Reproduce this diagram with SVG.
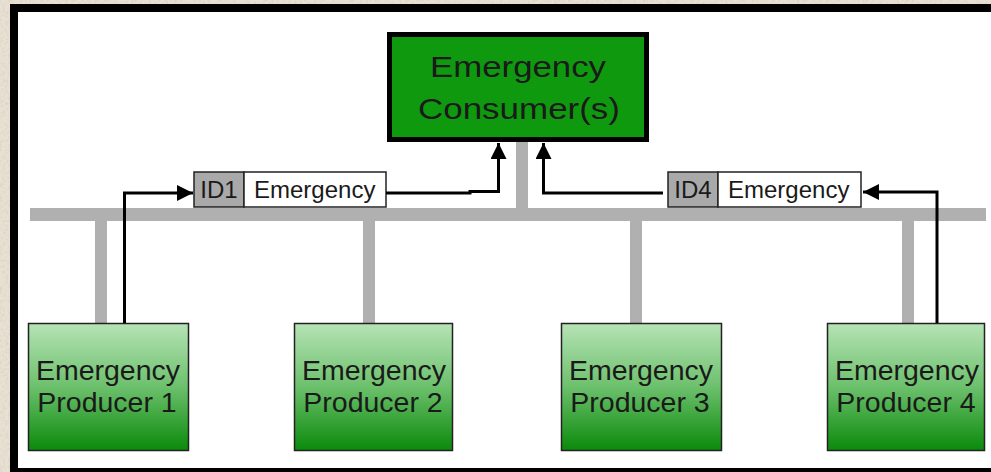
<svg xmlns="http://www.w3.org/2000/svg" width="991" height="472" viewBox="0 0 991 472">
  <defs>
    <style>
      .bus { fill: #b0b0b0; }
      .wire { fill: none; stroke: #000; stroke-width: 3; stroke-linejoin: miter; }
      .prod { fill: url(#prodGrad); stroke: #222; stroke-width: 1.5; }
      .cons { fill: #0f990f; stroke: #000; stroke-width: 5; }
      .tag-id { fill: #a9a9a9; stroke: #222; stroke-width: 1.5; }
      .tag-body { fill: #fff; stroke: #222; stroke-width: 1.5; }
      text { font-family: "Liberation Sans", Arial, sans-serif; fill: #1a1a1a; }
      .big { font-size: 30px; text-anchor: middle; }
      .mid { font-size: 28.5px; text-anchor: middle; }
      .small { font-size: 24px; }
    </style>
    <linearGradient id="prodGrad" x1="0" y1="0" x2="0" y2="1">
      <stop offset="0" stop-color="#b6e3b6"/>
      <stop offset="0.5" stop-color="#6cc06c"/>
      <stop offset="1" stop-color="#0a8a0a"/>
    </linearGradient>
    <filter id="grain" x="0" y="0" width="100%" height="100%">
      <feTurbulence type="fractalNoise" baseFrequency="0.35" numOctaves="3" seed="7"/>
      <feColorMatrix type="matrix" values="0 0 0 0 0.62  0 0 0 0 0.55  0 0 0 0 0.45  0 0 0 -2.2 1.25"/>
    </filter>
    <marker id="head" viewBox="0 0 16 16" refX="16" refY="8" markerWidth="16" markerHeight="16" markerUnits="userSpaceOnUse" orient="auto">
      <path d="M0,0 L16,8 L0,16 Z" fill="#000"/>
    </marker>
  </defs>

  <!-- stone backdrop -->
  <rect x="0" y="0" width="991" height="472" fill="#e8e0d3"/>
  <rect x="0" y="0" width="991" height="472" filter="url(#grain)" opacity="0.45"/>

  <!-- framed panel -->
  <rect x="10" y="4" width="990" height="480" fill="#000"/>
  <rect x="18" y="12" width="980" height="456" fill="#fff"/>

  <!-- shared bus and taps -->
  <g id="bus">
    <rect class="bus" x="30" y="208" width="956" height="13"/>
    <rect class="bus" x="516" y="140" width="12" height="70"/>
    <rect class="bus" x="95" y="219" width="12" height="106"/>
    <rect class="bus" x="363" y="219" width="12" height="106"/>
    <rect class="bus" x="630" y="219" width="12" height="106"/>
    <rect class="bus" x="902" y="219" width="12" height="106"/>
  </g>

  <g id="consumer">
    <rect class="cons" x="389.5" y="34.5" width="257" height="105"/>
    <text class="big" x="518" y="77" textLength="176" lengthAdjust="spacingAndGlyphs">Emergency</text>
    <text class="big" x="519" y="119" textLength="202" lengthAdjust="spacingAndGlyphs">Consumer(s)</text>
  </g>

  <g id="producer1">
    <rect class="prod" x="28.5" y="323.5" width="160" height="127"/>
    <text class="mid" x="108" y="380">Emergency</text>
    <text class="mid" x="107" y="412">Producer 1</text>
  </g>
  <g id="producer2">
    <rect class="prod" x="294.5" y="323.5" width="158" height="127"/>
    <text class="mid" x="374" y="380">Emergency</text>
    <text class="mid" x="373" y="412">Producer 2</text>
  </g>
  <g id="producer3">
    <rect class="prod" x="561.5" y="323.5" width="160" height="127"/>
    <text class="mid" x="641" y="380">Emergency</text>
    <text class="mid" x="640" y="412">Producer 3</text>
  </g>
  <g id="producer4">
    <rect class="prod" x="827.5" y="323.5" width="157" height="127"/>
    <text class="mid" x="907" y="380">Emergency</text>
    <text class="mid" x="906" y="412">Producer 4</text>
  </g>

  <g id="message1">
    <rect class="tag-id" x="194" y="172" width="50" height="35"/>
    <rect class="tag-body" x="244" y="172" width="142" height="35"/>
    <text class="small" x="219" y="198" text-anchor="middle">ID1</text>
    <text class="small" x="254" y="198">Emergency</text>
  </g>
  <g id="message4">
    <rect class="tag-id" x="668" y="172" width="50" height="35"/>
    <rect class="tag-body" x="718" y="172" width="143" height="35"/>
    <text class="small" x="693" y="198" text-anchor="middle">ID4</text>
    <text class="small" x="728" y="198">Emergency</text>
  </g>

  <g id="connectors">
    <path class="wire" d="M124.5,323 V193 H193" marker-end="url(#head)"/>
    <path class="wire" d="M386,193 H470 V191.5 H498.5 V143" marker-end="url(#head)"/>
    <path class="wire" d="M663,193 H543.5 V143" marker-end="url(#head)"/>
    <path class="wire" d="M937,323 V192 H863" marker-end="url(#head)"/>
  </g>
</svg>
